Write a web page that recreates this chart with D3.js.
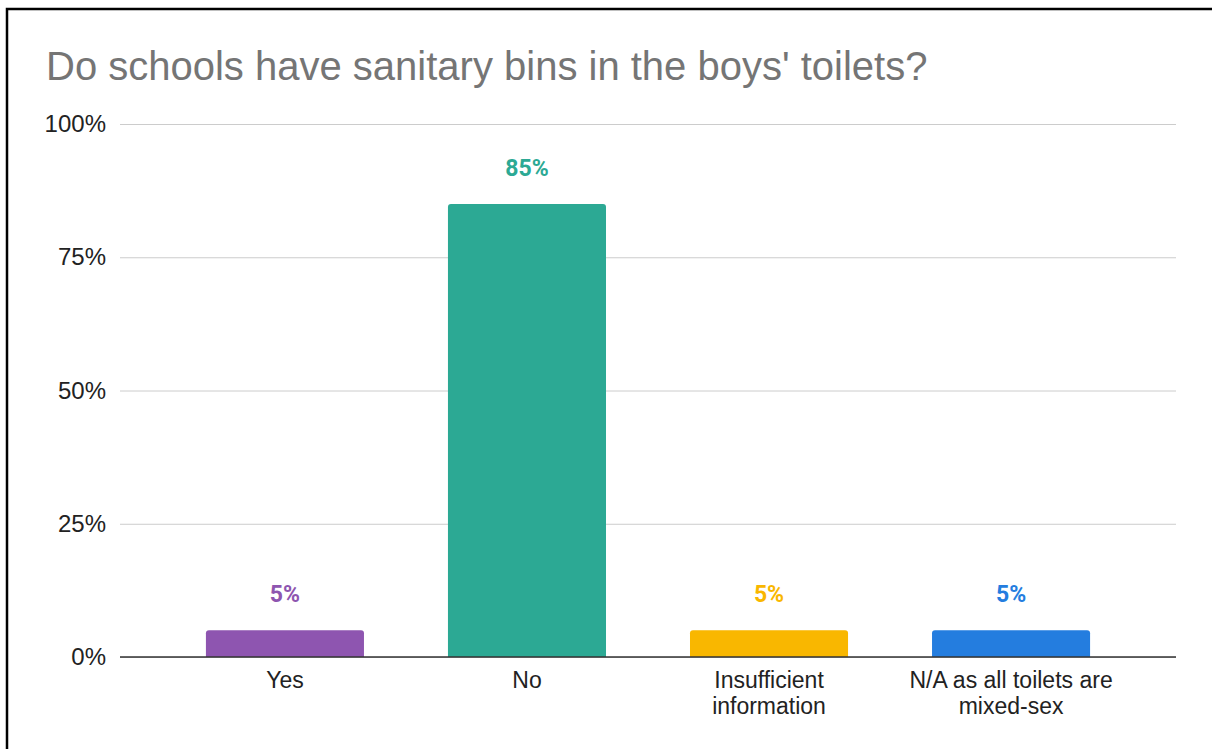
<!DOCTYPE html>
<html>
<head>
<meta charset="utf-8">
<script src="https://cdn.jsdelivr.net/npm/d3@7"></script>
<style>
  html, body { margin: 0; padding: 0; background: #fff; }
  svg { display: block; }
</style>
</head>
<body>
<svg id="chart" width="1212" height="749"></svg>
<script>
const title = "Do schools have sanitary bins in the boys' toilets?";
const categories = ["Yes", "No", "Insufficient information", "N/A as all toilets are mixed-sex"];
const categoryLines = [["Yes"], ["No"], ["Insufficient", "information"], ["N/A as all toilets are", "mixed-sex"]];
const values = [5, 85, 5, 5];
const colors = ["#8e55b0", "#2ca994", "#f9b700", "#247ddf"];
const yTicks = [0, 25, 50, 75, 100];

const svg = d3.select("#chart");
const W = 1212, H = 749;
const plot = { left: 120, right: 1176, top: 124, bottom: 657 };

// frame around the chart
svg.append("rect")
  .attr("x", 7).attr("y", 9)
  .attr("width", W + 20).attr("height", H + 20)
  .attr("fill", "#fff").attr("stroke", "#000").attr("stroke-width", 2.5);

svg.append("text")
  .attr("x", 46).attr("y", 80)
  .attr("fill", "#757575")
  .attr("font-family", "Liberation Sans, Arial, sans-serif")
  .attr("font-size", 40)
  .text(title);

const x = d3.scaleBand()
  .domain(categories)
  .range([plot.left, plot.right])
  .paddingInner(0.347)
  .paddingOuter(0.355);

const y = d3.scaleLinear().domain([0, 100]).range([plot.bottom, plot.top]);

// gridlines + y labels
const yAxis = d3.axisLeft(y)
  .tickValues(yTicks)
  .tickFormat(d => d + "%")
  .tickSize(-(plot.right - plot.left))
  .tickPadding(14);

const gy = svg.append("g")
  .attr("transform", `translate(${plot.left},0)`)
  .call(yAxis);
gy.select(".domain").remove();
gy.selectAll(".tick line").attr("stroke", "#cccccc").attr("stroke-width", 1);
gy.selectAll(".tick text")
  .attr("fill", "#222")
  .attr("font-family", "Liberation Sans, Arial, sans-serif")
  .attr("font-size", 24);

// bars with rounded top corners
const r = 3;
function barPath(x0, w, yTop, yBase) {
  return `M${x0},${yBase}V${yTop + r}Q${x0},${yTop} ${x0 + r},${yTop}H${x0 + w - r}Q${x0 + w},${yTop} ${x0 + w},${yTop + r}V${yBase}Z`;
}
svg.append("g").selectAll("path")
  .data(categories)
  .join("path")
  .attr("d", (c, i) => barPath(x(c), x.bandwidth(), y(values[i]), y(0)))
  .attr("fill", (c, i) => colors[i]);

// value labels
svg.append("g").selectAll("text")
  .data(categories)
  .join("text")
  .attr("x", c => x(c) + x.bandwidth() / 2)
  .attr("y", (c, i) => y(values[i]) - 28)
  .attr("text-anchor", "middle")
  .attr("fill", (c, i) => colors[i])
  .attr("font-family", "Roboto, Liberation Sans, Arial, sans-serif")
  .attr("font-weight", "bold")
  .attr("font-size", 23)
  .text((c, i) => values[i] + "%");

// baseline
svg.append("line")
  .attr("x1", plot.left).attr("x2", plot.right)
  .attr("y1", y(0)).attr("y2", y(0))
  .attr("stroke", "#333").attr("stroke-width", 1.5);

// category labels (wrapped onto two lines where long)
const xl = svg.append("g").selectAll("text")
  .data(categories)
  .join("text")
  .attr("text-anchor", "middle")
  .attr("fill", "#222")
  .attr("font-family", "Liberation Sans, Arial, sans-serif")
  .attr("font-size", 23);
xl.each(function (c, i) {
  const t = d3.select(this);
  categoryLines[i].forEach((line, k) => {
    t.append("tspan")
      .attr("x", x(c) + x.bandwidth() / 2)
      .attr("y", 688 + k * 26)
      .text(line);
  });
});
</script>
</body>
</html>
